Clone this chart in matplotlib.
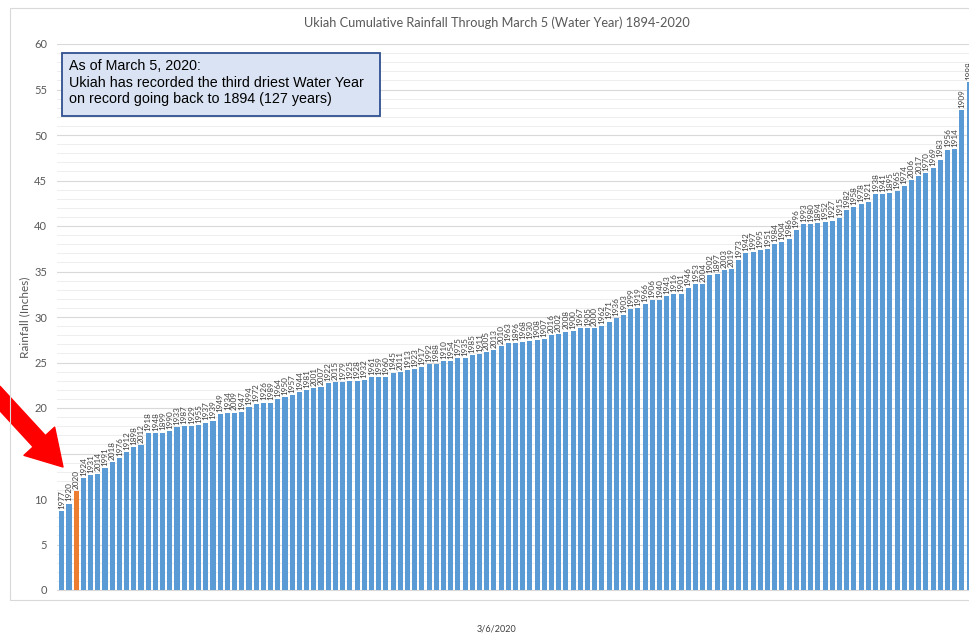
import matplotlib
matplotlib.use("Agg")
import matplotlib.pyplot as plt
import numpy as np
from matplotlib.patches import Rectangle

# Water years sorted from driest to wettest (through March 5)
years = [1977, 1920, 2020, 1924, 1931, 2014, 1991, 2018, 1976, 1912,
         1898, 2012, 1918, 1948, 1899, 1990, 1933, 1987, 1929, 1955,
         1937, 1939, 1949, 1934, 2009, 1947, 1994, 1972, 1926, 1989,
         1964, 1950, 1957, 1944, 1981, 2001, 2007, 1922, 2015, 1979,
         1925, 1928, 1932, 1961, 1959, 1960, 1945, 2011, 1913, 1923,
         1917, 1992, 1988, 1910, 1954, 1975, 1935, 1985, 1911, 2005,
         2013, 2010, 1963, 1896, 1968, 1930, 1908, 1907, 2016, 2002,
         2008, 1900, 1967, 1905, 2000, 1962, 1971, 1936, 1903, 1999,
         1919, 1966, 1906, 1940, 1943, 1916, 1901, 1946, 1953, 2004,
         1902, 1897, 2003, 2019, 1973, 1942, 1997, 1995, 1951, 1984,
         1904, 1986, 1996, 1993, 1980, 1894, 1952, 1927, 1915, 1982,
         1958, 1978, 1921, 1938, 1941, 1895, 1965, 1974, 2006, 2017,
         1970, 1969, 1983, 1956, 1914, 1909, 1998]

rain = [8.7, 9.5, 10.9, 12.3, 12.6, 12.8, 13.4, 14.1, 14.5, 15.2,
        15.7, 15.9, 17.2, 17.2, 17.3, 17.5, 17.9, 18.0, 18.0, 18.1,
        18.4, 18.6, 19.3, 19.5, 19.5, 19.6, 20.1, 20.4, 20.6, 20.6,
        21.0, 21.2, 21.4, 21.8, 22.0, 22.2, 22.3, 22.7, 22.9, 22.9,
        23.0, 23.0, 23.1, 23.4, 23.4, 23.4, 23.9, 24.0, 24.2, 24.3,
        24.5, 24.8, 24.8, 25.2, 25.2, 25.5, 25.5, 25.8, 25.9, 26.1,
        26.4, 26.8, 27.1, 27.1, 27.3, 27.4, 27.5, 27.6, 28.0, 28.1,
        28.4, 28.5, 28.8, 28.8, 28.8, 29.0, 29.5, 29.9, 30.2, 30.9,
        31.0, 31.4, 31.9, 31.9, 32.3, 32.5, 32.5, 33.2, 33.6, 33.6,
        34.6, 34.7, 35.2, 35.3, 36.3, 37.0, 37.1, 37.4, 37.5, 38.0,
        38.2, 38.6, 39.6, 40.2, 40.2, 40.3, 40.4, 40.6, 40.9, 41.8,
        42.1, 42.4, 42.6, 43.5, 43.5, 43.6, 43.8, 44.4, 45.1, 45.5,
        45.8, 46.4, 47.3, 48.4, 48.5, 52.7, 55.8]

highlight_year = 2020
title = "Ukiah Cumulative Rainfall Through March 5 (Water Year) 1894-2020"
note = ("As of March 5, 2020:\n"
        "Ukiah has recorded the third driest Water Year\n"
        "on record going back to 1894 (127 years)")

W, H = 970, 634
fig = plt.figure(figsize=(W / 100, H / 100), dpi=100)
fig.patch.set_facecolor("white")

# chart border (Excel chart area)
fig.patches.append(Rectangle((10 / W, 1 - 600 / H), 1.0, 592 / H,
                             transform=fig.transFigure, fill=False,
                             edgecolor="#d9d9d9", linewidth=0.8))

ax = fig.add_axes([57 / W, 44 / H, 913.5 / W, 546 / H])

x = np.arange(1, len(years) + 1)
colors = ["#ed7d31" if y == highlight_year else "#5b9bd5" for y in years]
bars = ax.bar(x, rain, width=0.7, color=colors, zorder=3)

for bar, yr in zip(bars, years):
    ax.annotate(str(yr), xy=(bar.get_x() + bar.get_width() / 2, bar.get_height()),
                xytext=(0, 1.5), textcoords="offset points",
                rotation=90, ha="center", va="bottom",
                fontsize=5.9, color="#404040", family="Lato")

ax.set_xlim(0.333, 127.2)
ax.set_ylim(0, 60)
ax.set_yticks(np.arange(0, 61, 5))
ax.set_yticks(np.arange(0, 61, 1), minor=True)
ax.set_xticks([])
ax.grid(axis="y", which="major", color="#d9d9d9", linewidth=0.8, zorder=0)
ax.grid(axis="y", which="minor", color="#ebebeb", linewidth=0.6, zorder=0)
ax.tick_params(axis="y", which="both", length=0, labelsize=8, labelcolor="#595959", pad=7)
for lab in ax.get_yticklabels():
    lab.set_family("Lato")
for s in ["top", "right", "left"]:
    ax.spines[s].set_visible(False)
ax.spines["bottom"].set_color("#d9d9d9")
ax.set_ylabel("Rainfall (Inches)", fontsize=8.5, color="#595959", family="Lato")
ax.yaxis.set_label_coords(-27 / 913.5, 0.5)

fig.text(497 / W, 1 - 23 / H, title, ha="center", va="center",
         fontsize=9.2, color="#595959", family="Lato")

# note box
fig.patches.append(Rectangle((62 / W, 1 - 116 / H), 318 / W, 63 / H,
                             transform=fig.transFigure, facecolor="#dae3f3",
                             edgecolor="#2f4f8f", linewidth=1.3, zorder=5))
fig.text(69 / W, 1 - 59 / H, note, ha="left", va="top",
         fontsize=10.3, color="black", family="Liberation Sans",
         linespacing=1.25, zorder=6)

fig.text(497 / W, 1 - 629 / H, "3/6/2020", ha="center", va="center",
         fontsize=6.5, color="#404040", family="Lato")

# red pointer toward 2020
ax.annotate("", xy=(63, H - 467), xycoords="figure pixels",
            xytext=(-6, H - 392), textcoords="figure pixels",
            arrowprops=dict(arrowstyle="simple,head_length=1.05,head_width=1.25,tail_width=0.5",
                            color="#ff0000", mutation_scale=24, shrinkA=0, shrinkB=0),
            annotation_clip=False)

fig.savefig("out.png", dpi=100, facecolor="white")
